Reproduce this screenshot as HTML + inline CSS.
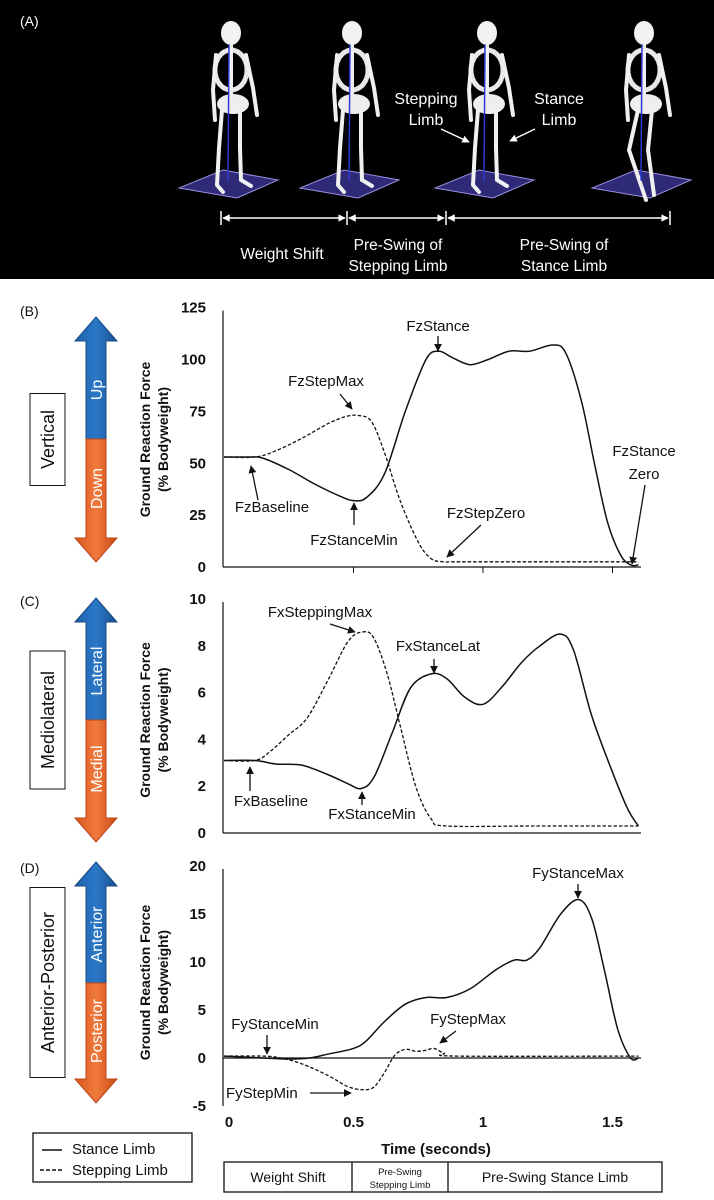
<!DOCTYPE html>
<html><head><meta charset="utf-8">
<style>
html,body{margin:0;padding:0;background:#fff;}
svg{display:block;font-family:"Liberation Sans",sans-serif;}
.ann{font-size:15px;fill:#111;}
.tick{font-size:15px;font-weight:bold;fill:#111;}
</style></head>
<body>
<svg id="fig" width="714" height="1200" viewBox="0 0 714 1200" xmlns="http://www.w3.org/2000/svg">
<defs>
<marker id="ah" viewBox="0 0 10 10" refX="9" refY="5" markerWidth="6" markerHeight="6" orient="auto"><path d="M0,0 L10,5 L0,10 z" fill="#111"/></marker>
<marker id="wh" viewBox="0 0 10 10" refX="9" refY="5" markerWidth="5" markerHeight="5" orient="auto"><path d="M0,0 L10,5 L0,10 z" fill="#fff"/></marker>
<marker id="wt" viewBox="0 0 10 10" refX="9" refY="5" markerWidth="5" markerHeight="5" orient="auto-start-reverse"><path d="M0,0 L10,5 L0,10 z" fill="#fff"/></marker>
<linearGradient id="gb" x1="0" x2="1"><stop offset="0" stop-color="#1f5fa8"/><stop offset="0.5" stop-color="#2a78c8"/><stop offset="1" stop-color="#1a4f90"/></linearGradient>
<linearGradient id="go" x1="0" x2="1"><stop offset="0" stop-color="#d8561f"/><stop offset="0.5" stop-color="#f07a3c"/><stop offset="1" stop-color="#c84a16"/></linearGradient>
</defs>

<!-- Panel A -->
<g>
<rect x="0" y="0" width="714" height="279" fill="#000"/>
<text x="20" y="26" fill="#fff" font-size="14">(A)</text>
<g id="skels"></g>
<text x="426" y="104" fill="#fff" font-size="16" text-anchor="middle">Stepping</text>
<text x="426" y="125" fill="#fff" font-size="16" text-anchor="middle">Limb</text>
<line x1="441" y1="129" x2="469" y2="142" stroke="#fff" stroke-width="1.5" marker-end="url(#wh)"/>
<text x="559" y="104" fill="#fff" font-size="16" text-anchor="middle">Stance</text>
<text x="559" y="125" fill="#fff" font-size="16" text-anchor="middle">Limb</text>
<line x1="535" y1="129" x2="510" y2="141" stroke="#fff" stroke-width="1.5" marker-end="url(#wh)"/>
<g stroke="#fff" stroke-width="1.5">
<line x1="223" y1="218" x2="345" y2="218" marker-start="url(#wt)" marker-end="url(#wt)"/>
<line x1="349" y1="218" x2="444" y2="218" marker-start="url(#wt)" marker-end="url(#wt)"/>
<line x1="448" y1="218" x2="668" y2="218" marker-start="url(#wt)" marker-end="url(#wt)"/>
<line x1="221" y1="211" x2="221" y2="225"/><line x1="347" y1="211" x2="347" y2="225"/>
<line x1="446" y1="211" x2="446" y2="225"/><line x1="670" y1="211" x2="670" y2="225"/>
</g>
<text x="282" y="259" fill="#fff" font-size="15.5" text-anchor="middle">Weight Shift</text>
<text x="398" y="250" fill="#fff" font-size="15.5" text-anchor="middle">Pre-Swing of</text>
<text x="398" y="271" fill="#fff" font-size="15.5" text-anchor="middle">Stepping Limb</text>
<text x="564" y="250" fill="#fff" font-size="15.5" text-anchor="middle">Pre-Swing of</text>
<text x="564" y="271" fill="#fff" font-size="15.5" text-anchor="middle">Stance Limb</text>
</g>

<g id="panels"></g>

<!-- legend -->
<g>
<rect x="33" y="1133" width="159" height="49" fill="#fff" stroke="#111" stroke-width="1.3"/>
<line x1="42" y1="1150" x2="62" y2="1150" stroke="#111" stroke-width="1.5"/>
<text x="72" y="1154" class="ann">Stance Limb</text>
<line x1="40" y1="1170" x2="64" y2="1170" stroke="#111" stroke-width="1.5" stroke-dasharray="4,2"/>
<text x="72" y="1175" class="ann">Stepping Limb</text>
</g>
<text x="436" y="1154" text-anchor="middle" font-size="15" font-weight="bold" fill="#111">Time (seconds)</text>
<g>
<rect x="224" y="1162" width="438" height="30" fill="#fff" stroke="#111" stroke-width="1.3"/>
<line x1="352" y1="1162" x2="352" y2="1192" stroke="#111" stroke-width="1.3"/>
<line x1="448" y1="1162" x2="448" y2="1192" stroke="#111" stroke-width="1.3"/>
<text x="288" y="1182" text-anchor="middle" font-size="14" fill="#111">Weight Shift</text>
<text x="400" y="1175" text-anchor="middle" font-size="9.5" fill="#111">Pre-Swing</text>
<text x="400" y="1188" text-anchor="middle" font-size="9.5" fill="#111">Stepping Limb</text>
<text x="555" y="1182" text-anchor="middle" font-size="14" fill="#111">Pre-Swing Stance Limb</text>
</g>
</svg>
<script>
// ---- data ----
const xTickLabels = ["0","0.5","1","1.5"];
const xTickValues = [0,0.5,1,1.5];

const fzTicks = [0,25,50,75,100,125];
const fzStanceT = [0,0.1,0.15,0.25,0.35,0.45,0.5,0.55,0.62,0.7,0.78,0.83,0.88,0.95,1.02,1.1,1.18,1.27,1.32,1.38,1.43,1.48,1.53,1.57,1.6];
const fzStanceV = [53,53,52.5,47,40,34,32,33.5,45,75,100,104,101,97.5,100,104,104,107,103,80,50,22,6,1,1];
const fzStepT = [0,0.12,0.2,0.3,0.4,0.47,0.52,0.57,0.62,0.68,0.75,0.8,0.85,0.9,1.2,1.6];
const fzStepV = [53,53,56,62,69,72.5,73,70,55,32,12,4,2.5,2.5,2.5,2.5];

const fxTicks = [0,2,4,6,8,10];
const fxStanceT = [0,0.12,0.2,0.3,0.4,0.48,0.53,0.58,0.65,0.72,0.8,0.86,0.93,1.0,1.07,1.15,1.22,1.3,1.35,1.42,1.5,1.56,1.6];
const fxStanceV = [3.1,3.1,2.95,2.9,2.5,2.1,1.9,2.4,4.3,6.2,6.8,6.6,5.8,5.5,6.2,7.3,8.0,8.5,7.8,5.0,2.6,1.0,0.3];
const fxStepT = [0,0.12,0.18,0.25,0.32,0.4,0.48,0.54,0.58,0.63,0.68,0.74,0.8,0.86,1.2,1.6];
const fxStepV = [3.1,3.1,3.5,4.2,4.9,6.5,8.2,8.6,8.3,6.8,4.6,2.0,0.6,0.3,0.3,0.3];

const fyTicks = [-5,0,5,10,15,20];
const fyStanceT = [0,0.15,0.25,0.33,0.4,0.5,0.55,0.62,0.7,0.78,0.86,0.95,1.05,1.12,1.17,1.22,1.3,1.37,1.42,1.47,1.52,1.57,1.6];
const fyStanceV = [0.2,0,-0.1,0,0.4,1.0,1.8,3.8,5.6,6.3,6.3,7.2,9.2,10.2,10.2,11.5,15,16.5,14.5,9,3,0,0];
const fyStepT = [0,0.15,0.22,0.3,0.4,0.48,0.54,0.58,0.62,0.66,0.7,0.74,0.78,0.81,0.85,0.9,1.6];
const fyStepV = [0.2,0.2,0,-0.6,-1.8,-3.0,-3.3,-3.0,-1.5,0.3,0.9,0.7,0.8,1.0,0.5,0.2,0.2];

const NS="http://www.w3.org/2000/svg";
function el(tag, attrs, parent){const e=document.createElementNS(NS,tag);for(const k in attrs)e.setAttribute(k,attrs[k]);parent.appendChild(e);return e;}
const xScale = t => 224 + t*259;
function smoothPath(pts){
  let d="M"+pts[0][0].toFixed(1)+","+pts[0][1].toFixed(1);
  for(let i=0;i<pts.length-1;i++){
    const p0=pts[i-1]||pts[i],p1=pts[i],p2=pts[i+1],p3=pts[i+2]||p2;
    const c1=[p1[0]+(p2[0]-p0[0])/6,p1[1]+(p2[1]-p0[1])/6];
    const c2=[p2[0]-(p3[0]-p1[0])/6,p2[1]-(p3[1]-p1[1])/6];
    d+=" C"+c1[0].toFixed(1)+","+c1[1].toFixed(1)+" "+c2[0].toFixed(1)+","+c2[1].toFixed(1)+" "+p2[0].toFixed(1)+","+p2[1].toFixed(1);
  }
  return d;
}
const root=document.getElementById('panels');

function panel(cfg){
  const g=el('g',{},root);
  
  
  const y = v => cfg.y0 - (v - cfg.vmin)*cfg.k;
  const lab=el('text',{x:20,y:cfg.labY,'font-size':14,fill:'#111'},g);lab.textContent=cfg.label;
  
  
  const ag=el('g',{},g);
  
  
  const cx=96, top=cfg.arrTop, bot=cfg.arrBot, sp=cfg.split;
  el('path',{d:`M${cx},${top} L${cx+21},${top+24} L${cx+10},${top+24} L${cx+10},${sp} L${cx-10},${sp} L${cx-10},${top+24} L${cx-21},${top+24} Z`,fill:'url(#gb)',stroke:'#174a85','stroke-width':1},ag);
  el('path',{d:`M${cx},${bot} L${cx+21},${bot-24} L${cx+10},${bot-24} L${cx+10},${sp} L${cx-10},${sp} L${cx-10},${bot-24} L${cx-21},${bot-24} Z`,fill:'url(#go)',stroke:'#b8461a','stroke-width':1},ag);
  const tu=el('text',{x:0,y:0,'font-size':16,fill:'#fff','text-anchor':'middle',transform:`translate(${cx+6},${(top+24+sp)/2}) rotate(-90)`},ag);tu.textContent=cfg.up;
  
  
  const td=el('text',{x:0,y:0,'font-size':16,fill:'#fff','text-anchor':'middle',transform:`translate(${cx+6},${(bot-24+sp)/2}) rotate(-90)`},ag);td.textContent=cfg.down;
  
  
  const mid=(top+bot)/2;
  el('rect',{x:30,y:mid-cfg.boxH/2,width:35,height:cfg.boxH,fill:'#fff',stroke:'#111','stroke-width':1},g);
  const bl=el('text',{x:0,y:0,'font-size':18,fill:'#111','text-anchor':'middle',transform:`translate(54,${mid}) rotate(-90)`},g);bl.textContent=cfg.box;
  
  
  const yt1=el('text',{x:0,y:0,'font-size':14,'font-weight':'bold',fill:'#111','text-anchor':'middle',transform:`translate(${cfg.ytx},${mid}) rotate(-90)`},g);yt1.textContent="Ground Reaction Force";
  
  
  const yt2=el('text',{x:0,y:0,'font-size':14,'font-weight':'bold',fill:'#111','text-anchor':'middle',transform:`translate(${cfg.ytx+18},${mid}) rotate(-90)`},g);yt2.textContent="(% Bodyweight)";
  
  
  const ymax=cfg.ticks[cfg.ticks.length-1], ymin=cfg.ticks[0];
  el('line',{x1:223,y1:y(ymax)+3,x2:223,y2:y(ymin),stroke:'#111','stroke-width':1.2},g);
  el('line',{x1:223,y1:y(0),x2:641,y2:y(0),stroke:'#111','stroke-width':1.2},g);
  if(cfg.xticks){
    xTickValues.forEach(t=>{ if(t>0) el('line',{x1:xScale(t),y1:y(0),x2:xScale(t),y2:y(0)+6,stroke:'#111','stroke-width':1},g);});
  }
  cfg.ticks.forEach(v=>{
    const t=el('text',{x:206,y:y(v)+5,'text-anchor':'end',class:'tick'},g);t.textContent=String(v);
    
    
  });
  const p1=el('path',{d:smoothPath(cfg.stepT.map((t,i)=>[xScale(t),y(cfg.stepV[i])])),fill:'none',stroke:'#111','stroke-width':1.3,'stroke-dasharray':'3.5,2'},g);
  
  
  const p2=el('path',{d:smoothPath(cfg.stanceT.map((t,i)=>[xScale(t),y(cfg.stanceV[i])])),fill:'none',stroke:'#111','stroke-width':1.5},g);
  
  
  cfg.anns.forEach(a=>{
    const t=el('text',{x:a[1],y:a[2],'text-anchor':a[7]||'middle',class:'ann'},g);t.textContent=a[0];
    
    
    if(a[3]!==null) el('line',{x1:a[3],y1:a[4],x2:a[5],y2:a[6],stroke:'#111','stroke-width':1.3,'marker-end':'url(#ah)'},g);
  });
}

panel({name:'panel-b-vertical',label:'(B)',labY:316,y0:567,vmin:0,k:2.075,ticks:fzTicks,xticks:true,
  arrTop:317,arrBot:562,split:439,up:'Up',down:'Down',box:'Vertical',boxH:92,ytx:150,
  stanceT:fzStanceT,stanceV:fzStanceV,stepT:fzStepT,stepV:fzStepV,
  anns:[['FzStance',438,331,438,336,438,351],['FzStepMax',326,386,340,394,352,409],
        ['FzStance',644,456,null],['Zero',644,479,645,485,632,564],
        ['FzBaseline',272,512,258,500,251,466],['FzStanceMin',354,545,354,525,354,503],
        ['FzStepZero',486,518,481,525,447,557]]});
panel({name:'panel-c-mediolateral',label:'(C)',labY:606,y0:833,vmin:0,k:23.4,ticks:fxTicks,xticks:false,
  arrTop:598,arrBot:842,split:720,up:'Lateral',down:'Medial',box:'Mediolateral',boxH:138,ytx:150,
  stanceT:fxStanceT,stanceV:fxStanceV,stepT:fxStepT,stepV:fxStepV,
  anns:[['FxSteppingMax',320,617,330,624,355,632],['FxStanceLat',438,651,434,659,434,673],
        ['FxBaseline',271,806,250,791,250,767],['FxStanceMin',372,819,362,805,362,792]]});
panel({name:'panel-d-anterior-posterior',label:'(D)',labY:873,y0:1058,vmin:0,k:9.6,ticks:fyTicks,xticks:false,
  arrTop:862,arrBot:1103,split:983,up:'Anterior',down:'Posterior',box:'Anterior-Posterior',boxH:190,ytx:150,
  stanceT:fyStanceT,stanceV:fyStanceV,stepT:fyStepT,stepV:fyStepV,
  anns:[['FyStanceMax',578,878,578,884,578,898],['FyStepMax',468,1024,456,1031,440,1043],
        ['FyStanceMin',275,1029,267,1035,267,1054],['FyStepMin',226,1098,310,1093,351,1093,'start']]});

xTickValues.forEach((t,i)=>{
  const tx=el('text',{x:xScale(t)+(i===0?5:0),y:1127,'text-anchor':'middle',class:'tick'},document.getElementById('fig'));
  tx.textContent=xTickLabels[i];
  
  
});

// skeletons (decorative)
const sk=document.getElementById('skels');
[[231,0],[352,1],[487,1],[644,2]].forEach(([cx,pose])=>{
  const g=el('g',{stroke:'#f0f0f0',fill:'none','stroke-width':4,'stroke-linecap':'round'},sk);
  
  
  el('path',{d:`M${cx-52},${188} L${cx+6},${198} L${cx+47},${180} L${cx-8},${170} Z`,fill:'#2e2a78',stroke:'#9a90e0','stroke-width':1},g);
  el('ellipse',{cx:cx,cy:33,rx:10,ry:12,fill:'#f2f2f2',stroke:'none'},g);
  el('ellipse',{cx:cx,cy:70,rx:16,ry:20,fill:'none',stroke:'#e8e8e8','stroke-width':5,'stroke-dasharray':'3,2'},g);
  el('line',{x1:cx,y1:45,x2:cx,y2:100},g);
  el('ellipse',{cx:cx+2,cy:104,rx:16,ry:10,fill:'#eee',stroke:'none'},g);
  el('path',{d:`M${cx-15},55 L${cx-18},90 L${cx-16},120`},g);
  el('path',{d:`M${cx+15},55 L${cx+22},88 L${cx+26},115`},g);
  if(pose===2){
    el('path',{d:`M${cx-6},110 L${cx-15},150 L${cx+2},200`},g);
    el('path',{d:`M${cx+8},110 L${cx+4},150 L${cx+10},195`},g);
  } else {
    el('path',{d:`M${cx-9},110 L${cx-12},148 L${cx-14},185 L${cx-8},192`},g);
    el('path',{d:`M${cx+9},110 L${cx+9},148 L${cx+10},180 L${cx+20},186`},g);
  }
  el('line',{x1:cx-2,y1:45,x2:cx-3,y2:180,stroke:'#2a3ad0','stroke-width':1.5},g);
});
</script>
</body></html>
